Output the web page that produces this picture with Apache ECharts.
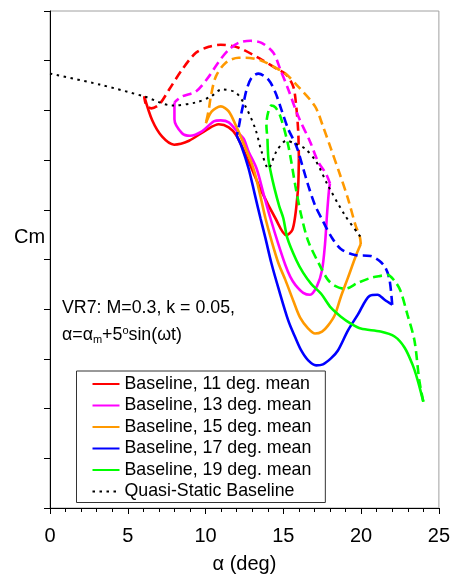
<!DOCTYPE html>
<html><head><meta charset="utf-8">
<script src="https://cdn.jsdelivr.net/npm/echarts@6/dist/echarts.min.js"></script>
<style>html,body{margin:0;padding:0;background:#fff}#c{width:453px;height:579px}</style>
</head><body><div id="c"></div>
<script>
const FONT = '"Liberation Sans", Arial, Helvetica, sans-serif';

const legendNames = [
  'Baseline, 11 deg. mean',
  'Baseline, 13 deg. mean',
  'Baseline, 15 deg. mean',
  'Baseline, 17 deg. mean',
  'Baseline, 19 deg. mean',
  'Quasi-Static Baseline'
];
const colors = ['#ff0000', '#ff00ff', '#ff9900', '#0000ff', '#00ff00'];

// [alpha (deg), Cm (arbitrary units, y-axis unlabelled)]
// upstroke = solid, downstroke = dashed
const mean11Up = [[6.06,8.28],[6.57,7.80],[7.21,7.47],[7.98,7.31],[8.94,7.39],[10.02,7.60],[10.85,7.72],[11.49,7.66],[12.00,7.49],[12.77,6.97],[13.60,6.37],[14.49,5.83],[15.19,5.49],[15.57,5.59],[15.77,5.89],[15.89,6.23],[15.96,6.49],[16.00,7.03]];
const mean11Down = [[16.00,7.03],[15.96,7.56],[15.83,8.08],[15.64,8.48],[15.19,8.72],[14.68,8.82],[13.60,9.02],[12.13,9.26],[10.98,9.32],[10.21,9.28],[9.38,9.16],[8.49,8.82],[7.66,8.42],[7.02,8.12],[6.51,8.04],[6.19,8.10],[6.06,8.28]];

const mean13Up = [[8.00,8.16],[8.00,7.82],[8.49,7.54],[9.00,7.49],[9.77,7.58],[10.53,7.78],[10.98,7.80],[11.49,7.76],[12.13,7.54],[12.45,7.43],[12.77,7.17],[13.28,6.83],[13.72,6.33],[14.17,5.83],[14.68,5.31],[15.13,4.89],[15.45,4.65],[15.77,4.49],[16.28,4.33],[16.72,4.29],[17.17,4.47],[17.49,4.79],[17.68,5.31],[17.81,5.91],[17.94,6.41],[18.00,6.53]];
const mean13Down = [[18.00,6.53],[17.74,6.73],[17.23,6.97],[16.72,7.37],[15.96,7.88],[15.32,8.42],[14.81,8.82],[14.36,9.16],[13.60,9.36],[12.89,9.40],[12.13,9.36],[11.49,9.22],[10.85,8.98],[10.21,8.68],[9.38,8.38],[8.49,8.28],[8.00,8.16]];

const mean15Up = [[10.02,7.74],[10.40,7.98],[10.98,8.08],[11.49,7.98],[12.00,7.66],[12.32,7.43],[13.08,6.83],[13.53,6.27],[13.85,5.83],[14.23,5.39],[14.68,4.93],[15.13,4.59],[15.64,4.17],[16.08,3.83],[16.60,3.61],[17.04,3.51],[17.49,3.55],[17.87,3.67],[18.32,3.89],[18.70,4.25],[19.15,4.63],[19.66,5.07],[19.98,5.31]];
const mean15Down = [[19.98,5.31],[19.91,5.47],[19.66,5.67],[19.15,6.23],[18.64,6.71],[18.06,7.23],[17.55,7.68],[17.04,8.08],[15.96,8.48],[15.13,8.74],[14.49,8.86],[13.60,9.00],[12.57,9.06],[12.13,9.06],[11.30,8.96],[10.66,8.68],[10.34,8.28],[10.21,8.02],[10.02,7.74]];

const mean17Up = [[12.00,7.49],[12.32,7.27],[12.77,6.83],[13.15,6.33],[13.53,5.83],[13.85,5.43],[14.23,4.93],[14.68,4.43],[15.32,3.77],[15.77,3.43],[16.15,3.17],[16.60,2.97],[17.11,2.87],[17.55,2.89],[18.06,3.01],[18.51,3.17],[19.15,3.57],[19.79,3.89],[20.55,4.27],[21.06,4.29],[21.51,4.19],[22.00,4.09]];
const mean17Down = [[22.00,4.09],[21.83,4.59],[21.57,4.83],[21.19,4.97],[20.62,5.07],[19.60,5.09],[18.70,5.21],[18.06,5.47],[17.55,5.77],[17.04,6.09],[16.60,6.49],[16.28,6.83],[15.83,7.29],[15.32,7.62],[14.87,8.02],[14.49,8.36],[14.04,8.62],[13.40,8.74],[12.96,8.66],[12.64,8.42],[12.45,8.16],[12.26,7.88],[12.13,7.66],[12.00,7.49]];

const mean19Up = [[13.98,7.43],[14.04,7.03],[14.17,6.79],[14.43,6.43],[14.74,6.07],[15.00,5.83],[15.26,5.43],[15.83,4.99],[16.28,4.73],[16.79,4.51],[17.43,4.31],[18.06,4.03],[18.70,3.85],[19.34,3.71],[19.98,3.61],[21.25,3.55],[22.15,3.45],[22.79,3.23],[23.30,2.89],[23.62,2.59],[24.00,2.14]];
const mean19Down = [[24.00,2.14],[23.74,2.57],[23.43,3.37],[22.98,3.89],[22.53,4.37],[22.15,4.57],[21.70,4.69],[21.25,4.67],[20.62,4.63],[19.79,4.53],[18.96,4.41],[18.32,4.47],[17.87,4.59],[17.36,4.87],[16.60,5.37],[16.15,5.89],[15.77,6.49],[15.32,7.29],[14.81,7.88],[14.49,8.06],[14.23,8.10],[14.04,7.98],[13.91,7.72],[13.98,7.43]];

const quasiStatic = [[0,8.74],[3.19,8.52],[6.06,8.28],[7.85,8.10],[9.38,8.16],[10.34,8.28],[11.04,8.42],[11.94,8.36],[12.57,8.08],[13.21,7.62],[13.60,7.17],[14.04,6.83],[14.55,7.17],[15.19,7.39],[15.77,7.33],[16.40,7.23],[17.11,6.97],[17.87,6.49],[18.96,5.89],[19.98,5.45]];

const upstrokes = [mean11Up, mean13Up, mean15Up, mean17Up, mean19Up];
const downstrokes = [mean11Down, mean13Down, mean15Down, mean17Down, mean19Down];

const series = [];
upstrokes.forEach((d, i) => {
  series.push({
    name: legendNames[i], type: 'line', data: d, showSymbol: false, symbol: 'none',
    smooth: 0.3, lineStyle: { color: colors[i], width: 2.6 }, itemStyle: { color: colors[i] }, z: 2
  });
  series.push({
    name: legendNames[i] + ' (down)', type: 'line', data: downstrokes[i], showSymbol: false, symbol: 'none',
    smooth: 0.3, lineStyle: { color: colors[i], width: 2.6, type: [9, 5] }, itemStyle: { color: colors[i] }, z: 2
  });
});
series.push({
  name: legendNames[5], type: 'line', data: quasiStatic, showSymbol: false, symbol: 'none',
  smooth: 0.3, lineStyle: { color: '#000', width: 2, type: [2.5, 4.5] }, itemStyle: { color: '#000' }, z: 3
});

const chart = echarts.init(document.getElementById('c'), null, { renderer: 'canvas' });
chart.setOption({
  animation: false,
  backgroundColor: '#fff',
  textStyle: { fontFamily: FONT },
  grid: { left: 50, right: 11.5, top: 11, bottom: 67, show: true, borderColor: '#a0a0a0', borderWidth: 1, backgroundColor: 'transparent' },
  xAxis: {
    type: 'value', min: 0, max: 25, interval: 5,
    name: 'α (deg)', nameLocation: 'middle', nameGap: 46,
    nameTextStyle: { fontSize: 20, color: '#000', fontFamily: FONT },
    axisLine: { lineStyle: { color: '#000', width: 1 } },
    axisTick: { length: 6, lineStyle: { color: '#000' } },
    minorTick: { show: true, splitNumber: 5, length: 4, lineStyle: { color: '#000' } },
    axisLabel: { fontSize: 20, color: '#000', margin: 18, fontFamily: FONT },
    splitLine: { show: false }
  },
  yAxis: {
    type: 'value', min: 0, max: 10, interval: 1,
    axisLine: { show: true, lineStyle: { color: '#000', width: 1 } },
    axisTick: { show: true, length: 6, lineStyle: { color: '#000' } },
    axisLabel: { show: false },
    splitLine: { show: false }
  },
  legend: {
    data: legendNames, orient: 'vertical', left: 76.5, top: 371,
    itemWidth: 27, itemHeight: 18, itemGap: 3.5,
    padding: [4, 14, 2, 15],
    backgroundColor: '#fff', borderColor: '#333', borderWidth: 1,
    itemStyle: { opacity: 0 },
    textStyle: { fontSize: 17.8, color: '#000', fontFamily: FONT, lineHeight: 18 },
    selectedMode: false
  },
  graphic: [
    { type: 'text', x: 14, y: 237, style: { text: 'Cm', fontSize: 20, fontFamily: FONT, fill: '#000', verticalAlign: 'middle' } },
    { type: 'text', x: 62, y: 308, style: { text: 'VR7: M=0.3, k = 0.05,', fontSize: 17.8, fontFamily: FONT, fill: '#000', verticalAlign: 'middle' } },
    { type: 'text', x: 62, y: 335, style: {
        text: 'α=α{sub|m}+5{sup|o}sin(ωt)', fontSize: 17.8, fontFamily: FONT, fill: '#000', verticalAlign: 'middle', lineHeight: 20,
        rich: {
          sub: { fontSize: 11, fontFamily: FONT, fill: '#000', lineHeight: 12, verticalAlign: 'bottom' },
          sup: { fontSize: 11, fontFamily: FONT, fill: '#000', lineHeight: 10, verticalAlign: 'top' }
        }
    } }
  ],
  series: series
});
</script></body></html>
